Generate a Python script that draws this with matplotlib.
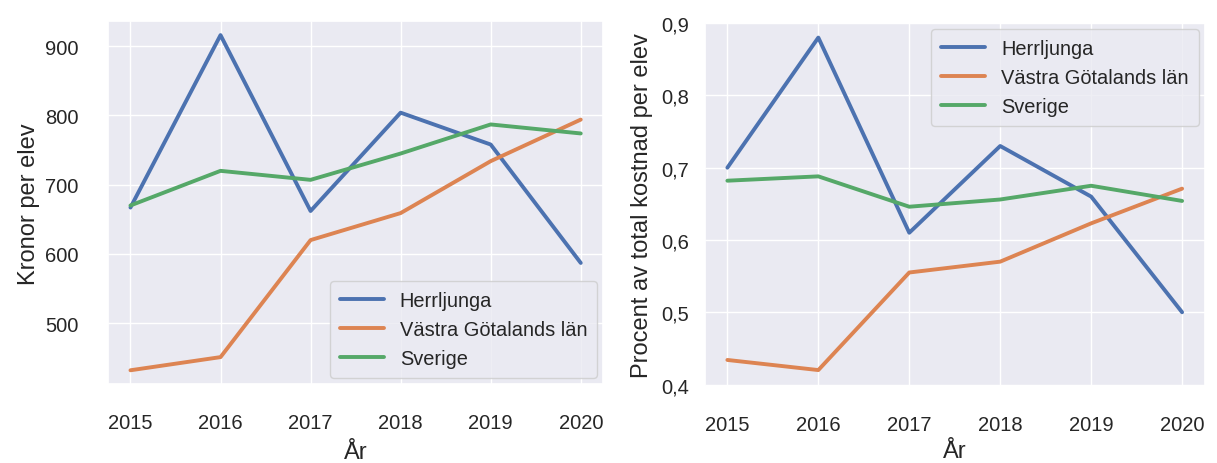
import matplotlib
matplotlib.use("Agg")
import matplotlib.pyplot as plt
import seaborn as sns
from matplotlib.ticker import FuncFormatter

years = [2015, 2016, 2017, 2018, 2019, 2020]
series_names = ["Herrljunga", "Västra Götalands län", "Sverige"]

# Kronor per elev
kr_herrljunga = [667, 916, 662, 804, 758, 587]
kr_vgl = [432, 451, 620, 659, 734, 794]
kr_sverige = [670, 720, 707, 745, 787, 774]

# Procent av total kostnad per elev
pct_herrljunga = [0.70, 0.88, 0.61, 0.73, 0.66, 0.50]
pct_vgl = [0.434, 0.420, 0.555, 0.570, 0.623, 0.671]
pct_sverige = [0.682, 0.688, 0.646, 0.656, 0.675, 0.654]

sns.set_theme(style="darkgrid")
plt.rcParams['font.family'] = ['Liberation Sans', 'DejaVu Sans']

fig = plt.figure(figsize=(12.17, 4.64), dpi=100)
ax1 = fig.add_axes([0.0887, 0.170, 0.407, 0.782])
ax2 = fig.add_axes([0.579, 0.166, 0.411, 0.782])

for vals, name in zip([kr_herrljunga, kr_vgl, kr_sverige], series_names):
    ax1.plot(years, vals, lw=2.8, label=name)
for vals, name in zip([pct_herrljunga, pct_vgl, pct_sverige], series_names):
    ax2.plot(years, vals, lw=2.8, label=name)

leg_kw = dict(fontsize=14.4, handlelength=2.2, labelspacing=0.5,
              borderpad=0.5, borderaxespad=0.3)

ax1.set_ylim(412, 936)
ax1.set_yticks([500, 600, 700, 800, 900])
ax1.set_ylabel("Kronor per elev", fontsize=17, labelpad=4)
ax1.legend(loc="lower right", **leg_kw)
ax1.tick_params(axis="y", pad=15)
ax1.set_xlabel("År", fontsize=17, labelpad=6)

ax2.set_ylim(0.398, 0.9)
ax2.set_yticks([0.4, 0.5, 0.6, 0.7, 0.8, 0.9])
ax2.yaxis.set_major_formatter(FuncFormatter(lambda v, p: f"{v:.1f}".replace(".", ",")))
ax2.set_ylabel("Procent av total kostnad per elev", fontsize=17, labelpad=6)
ax2.legend(loc="upper right", **leg_kw)
ax2.tick_params(axis="y", pad=5)
ax2.set_xlabel("År", fontsize=17, labelpad=4)

for ax in (ax1, ax2):
    ax.set_xticks(years)
    ax.tick_params(labelsize=14.5)
    ax.tick_params(axis="x", pad=15)

fig.savefig("out.png", dpi=100)
